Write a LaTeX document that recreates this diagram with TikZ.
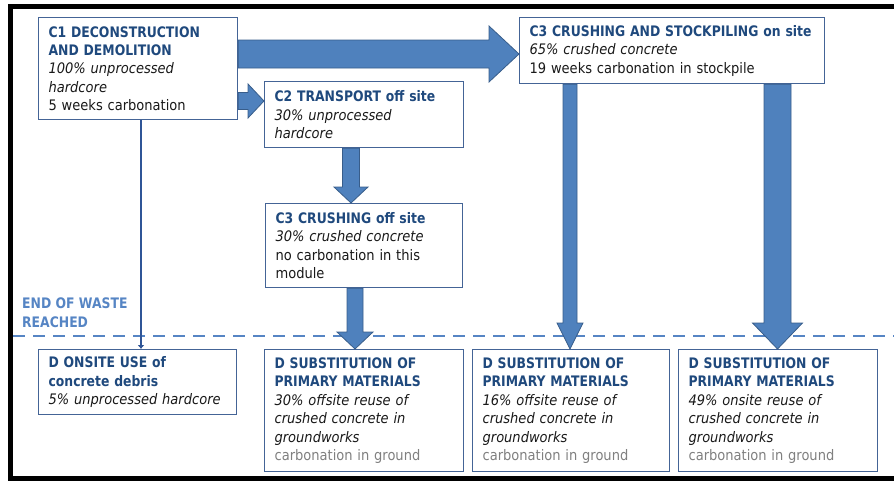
\documentclass[tikz,border=0pt]{standalone}
\usepackage{fontspec}
\setmainfont{DejaVu Sans Condensed}[BoldFeatures={FakeStretch=0.95}]
\usetikzlibrary{calc,arrows.meta}

\definecolor{titleblue}{RGB}{31,73,125}
\definecolor{boxline}{RGB}{68,100,150}
\definecolor{arrowfill}{RGB}{79,129,189}
\definecolor{arrowline}{RGB}{56,93,138}
\definecolor{linkblue}{RGB}{47,85,151}
\definecolor{eowblue}{RGB}{86,133,196}
\definecolor{notegray}{RGB}{128,128,128}

\newcommand{\hd}[1]{{\color{titleblue}\bfseries #1}}
\newcommand{\gr}[1]{{\color{notegray}#1}}

% block arrows: from, to, body half width, head half width, head length
\newcommand{\rightblock}[5]{%
  \path[blockarrow] let \p1=(#1), \p2=(#2) in
    (\x1,\y1+#3) -- (\x2-#5,\y1+#3) -- (\x2-#5,\y1+#4) -- (\x2,\y1)
    -- (\x2-#5,\y1-#4) -- (\x2-#5,\y1-#3) -- (\x1,\y1-#3) -- cycle;}
\newcommand{\downblock}[5]{%
  \path[blockarrow] let \p1=(#1), \p2=(#2) in
    (\x1-#3,\y1) -- (\x1-#3,\y2+#5) -- (\x1-#4,\y2+#5) -- (\x1,\y2)
    -- (\x1+#4,\y2+#5) -- (\x1+#3,\y2+#5) -- (\x1+#3,\y1) -- cycle;}

\begin{document}
\begin{tikzpicture}[x=1pt,y=-1pt,
    font=\fontsize{14.5}{18.4}\selectfont,
    box/.style={draw=boxline, line width=1.2pt, fill=white, anchor=north west,
      align=left, inner xsep=10pt, inner ysep=0pt, text=black!90},
    blockarrow/.style={fill=arrowfill, draw=arrowline, line width=0.8pt, line join=miter}]
  \useasboundingbox (0,0) rectangle (894,480);
  \clip (0,0) rectangle (894,480);

  % frame
  \draw[line width=5pt] (900,6.5) -- (10.5,6.5) -- (10.5,478) -- (900,478);

  % end of waste
  \node[anchor=north west, inner sep=0pt, align=left, text=eowblue, font=\fontsize{14.5}{18.4}\selectfont\bfseries]
    (eow) at (22,298) {END OF WASTE\\REACHED};
  \draw[eowblue, line width=2.6pt, dash pattern=on 12pt off 8pt] (13,336) -- (894,336);

  % C modules
  \node[box, text width=179pt, minimum height=102pt] (c1) at (38,17)
    {\hd{C1 DECONSTRUCTION}\\\hd{AND DEMOLITION}\\\textit{100\% unprocessed}\\\textit{hardcore}\\5 weeks carbonation};
  \node[box, text width=179pt, minimum height=66pt] (c2) at (264,81)
    {\hd{C2 TRANSPORT off site}\\\textit{30\% unprocessed}\\\textit{hardcore}};
  \node[box, text width=177pt, minimum height=84pt] (c3off) at (265,203)
    {\hd{C3 CRUSHING off site}\\\textit{30\% crushed concrete}\\no carbonation in this\\module};
  \node[box, text width=285pt, minimum height=66pt] (c3top) at (519,17)
    {\hd{C3 CRUSHING AND STOCKPILING on site}\\\textit{65\% crushed concrete}\\19 weeks carbonation in stockpile};

  % D modules
  \node[box, text width=178pt, minimum height=65pt] (donsite) at (38,349)
    {\hd{D ONSITE USE of}\\\hd{concrete debris}\\\textit{5\% unprocessed hardcore}};
  \node[box, text width=179pt, minimum height=122pt] (dsub1) at (264,349)
    {\hd{D SUBSTITUTION OF}\\\hd{PRIMARY MATERIALS}\\\textit{30\% offsite reuse of}\\\textit{crushed concrete in}\\\textit{groundworks}\\\gr{carbonation in ground}};
  \node[box, text width=177pt, minimum height=122pt] (dsub2) at (472,349)
    {\hd{D SUBSTITUTION OF}\\\hd{PRIMARY MATERIALS}\\\textit{16\% offsite reuse of}\\\textit{crushed concrete in}\\\textit{groundworks}\\\gr{carbonation in ground}};
  \node[box, text width=179pt, minimum height=122pt] (dsub3) at (678,349)
    {\hd{D SUBSTITUTION OF}\\\hd{PRIMARY MATERIALS}\\\textit{49\% onsite reuse of}\\\textit{crushed concrete in}\\\textit{groundworks}\\\gr{carbonation in ground}};

  % flows
  \rightblock{$(c1.north east)+(0,37)$}{c3top.west}{14pt}{28pt}{30pt}
  \rightblock{$(c1.north east)+(0,84)$}{c2.west}{8.5pt}{17pt}{16pt}
  \downblock{$(c2.south west)+(87,0)$}{c3off.north}{8.5pt}{17pt}{16pt}
  \downblock{$(c3off.south west)+(90,0)$}{dsub1.north}{8pt}{18pt}{17pt}
  \downblock{$(c3top.south west)+(51,0)$}{dsub2.north}{7pt}{13pt}{26pt}
  \downblock{$(c3top.south west)+(258.5,0)$}{dsub3.north}{13.5pt}{25pt}{26pt}
  \draw[linkblue, line width=2.4pt, -{Latex[length=4pt,width=7pt]}]
    ($(c1.south west)+(103,0)$) -- ($(donsite.north west)+(103,0)$);
\end{tikzpicture}
\end{document}
